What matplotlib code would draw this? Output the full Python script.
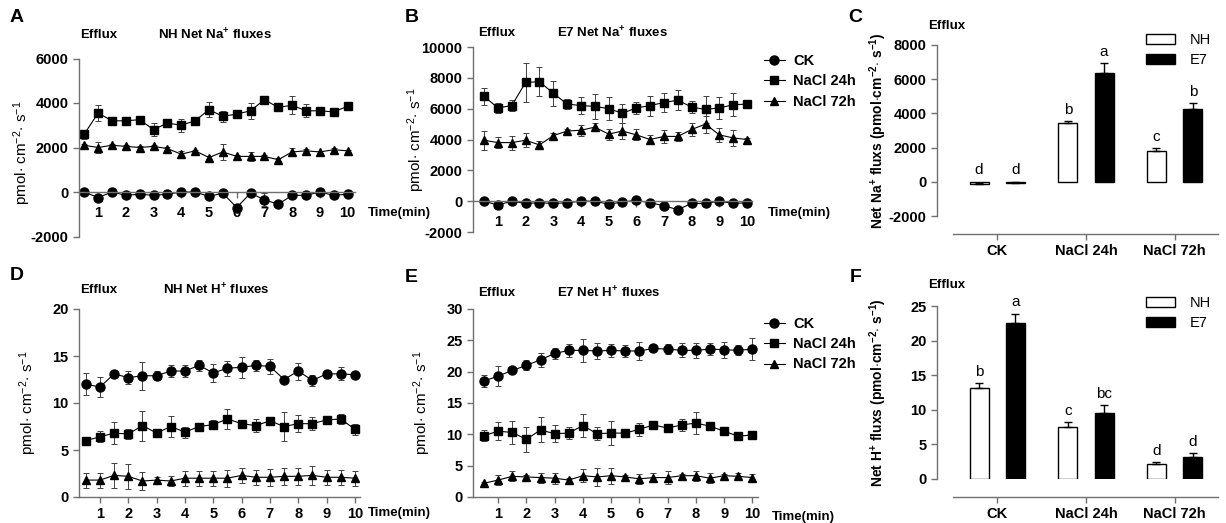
"""Net Na+ and H+ fluxes, NH vs E7 (panels A-F)."""
import matplotlib
matplotlib.use("Agg")
import matplotlib.pyplot as plt
from matplotlib.patches import Patch
from matplotlib.lines import Line2D

plt.rcParams["font.family"] = ["Liberation Sans", "DejaVu Sans"]
plt.rcParams["mathtext.fontset"] = "custom"
plt.rcParams["mathtext.rm"] = "Liberation Sans"
plt.rcParams["mathtext.bf"] = "Liberation Sans:bold"
plt.rcParams["mathtext.it"] = "Liberation Sans:italic"
plt.rcParams["axes.unicode_minus"] = False

# ---- data ----
time = [0.5, 1, 1.5, 2, 2.5, 3, 3.5, 4, 4.5, 5,
        5.5, 6, 6.5, 7, 7.5, 8, 8.5, 9, 9.5, 10]
series_names = ["CK", "NaCl 24h", "NaCl 72h"]

# A: NH Na+
a_ck = [0, -250, 0, -150, -100, -150, -100, 0, 0, -200,
        -50, -700, -50, -350, -550, -150, -150, 0, -150, -100]
a_ck_err = [50, 80, 50, 50, 50, 50, 50, 80, 50, 80,
            50, 150, 50, 300, 80, 50, 50, 50, 50, 50]
a_24 = [2600, 3550, 3200, 3200, 3250, 2800, 3100, 3000, 3200, 3700,
        3400, 3500, 3650, 4150, 3800, 3900, 3650, 3650, 3600, 3850]
a_24_err = [200, 350, 80, 80, 80, 300, 80, 300, 80, 350,
            250, 80, 350, 80, 80, 400, 300, 80, 80, 80]
a_72 = [2100, 2000, 2100, 2050, 2000, 2050, 1950, 1700, 1850, 1550,
        1800, 1600, 1600, 1600, 1450, 1800, 1850, 1800, 1900, 1850]
a_72_err = [60, 250, 60, 60, 60, 60, 60, 150, 60, 60,
            350, 60, 200, 60, 60, 200, 100, 60, 60, 60]

# B: E7 Na+
b_ck = [0, -250, 0, -150, -100, -150, -100, 0, 0, -200,
        -50, 50, -100, -300, -550, -150, -150, 0, -150, -100]
b_ck_err = [50, 80, 50, 50, 50, 50, 50, 80, 50, 80,
            50, 80, 50, 100, 80, 50, 50, 50, 50, 50]
b_24 = [6800, 6050, 6200, 7700, 7750, 7000, 6300, 6200, 6150, 6000,
        5700, 6050, 6200, 6400, 6550, 6100, 5950, 6050, 6250, 6300]
b_24_err = [550, 350, 350, 1250, 950, 800, 350, 550, 800, 750,
            600, 400, 650, 600, 650, 400, 850, 700, 750, 150]
b_72 = [3950, 3800, 3800, 3950, 3650, 4250, 4550, 4600, 4800, 4350,
        4550, 4300, 4000, 4200, 4200, 4650, 5000, 4300, 4100, 4000]
b_72_err = [600, 350, 450, 450, 250, 150, 150, 350, 250, 350,
            500, 350, 300, 400, 300, 400, 550, 450, 500, 100]

# D: NH H+
d_ck = [12.0, 11.7, 13.1, 12.7, 12.9, 12.9, 13.4, 13.4, 14.0, 13.2,
        13.7, 13.8, 14.0, 13.9, 12.5, 13.4, 12.4, 13.1, 13.1, 13.0]
d_ck_err = [1.2, 1.1, 0.3, 0.7, 1.5, 0.5, 0.6, 0.6, 0.6, 1.0,
            0.8, 1.1, 0.6, 0.8, 0.3, 0.9, 0.6, 0.4, 0.7, 0.3]
d_24 = [6.0, 6.4, 6.8, 6.7, 7.6, 6.8, 7.5, 6.9, 7.5, 7.7,
        8.3, 7.8, 7.6, 8.1, 7.5, 7.8, 7.8, 8.2, 8.3, 7.2]
d_24_err = [0.2, 0.6, 1.2, 0.5, 1.6, 0.2, 1.1, 0.6, 0.4, 0.5,
            1.1, 0.2, 0.7, 0.2, 1.5, 0.9, 0.7, 0.3, 0.5, 0.6]
d_72 = [1.8, 1.8, 2.3, 2.2, 1.7, 1.8, 1.7, 2.0, 2.0, 2.0,
        2.0, 2.3, 2.1, 2.1, 2.2, 2.2, 2.3, 2.1, 2.1, 2.0]
d_72_err = [0.8, 0.8, 1.3, 1.3, 1.0, 0.3, 0.5, 0.8, 0.8, 0.8,
            0.9, 0.8, 0.8, 0.9, 0.9, 0.9, 1.0, 0.8, 0.8, 0.8]

# E: E7 H+
e_ck = [18.5, 19.3, 20.2, 21.0, 21.9, 22.9, 23.4, 23.4, 23.3, 23.4,
        23.3, 23.3, 23.7, 23.6, 23.4, 23.4, 23.6, 23.5, 23.4, 23.6]
e_ck_err = [1.0, 1.6, 0.3, 0.8, 1.1, 0.8, 1.0, 1.8, 1.2, 1.0,
            1.0, 1.5, 0.4, 0.8, 1.1, 1.2, 0.9, 1.3, 0.8, 1.7]
e_24 = [9.8, 10.5, 10.3, 9.2, 10.7, 10.1, 10.2, 11.4, 10.1, 10.2,
        10.2, 10.8, 11.5, 11.0, 11.5, 11.8, 11.3, 10.5, 9.7, 9.9]
e_24_err = [0.9, 1.4, 1.8, 2.0, 2.0, 1.4, 1.0, 1.8, 1.0, 1.9,
            0.3, 1.0, 0.5, 0.6, 1.0, 1.7, 0.3, 0.3, 0.6, 0.3]
e_72 = [2.2, 2.7, 3.3, 3.2, 3.1, 3.0, 2.7, 3.4, 3.2, 3.4,
        3.2, 2.9, 3.1, 3.1, 3.4, 3.4, 3.0, 3.4, 3.3, 3.1]
e_72_err = [0.2, 0.8, 0.8, 0.3, 0.8, 0.9, 0.3, 1.0, 1.5, 1.3,
            0.3, 0.8, 0.7, 1.0, 0.3, 0.8, 0.8, 0.3, 0.6, 0.6]

# C / F: means per treatment
groups = ["CK", "NaCl 24h", "NaCl 72h"]
c_nh = [-100, 3420, 1810]
c_nh_err = [40, 150, 140]
c_e7 = [-50, 6340, 4270]
c_e7_err = [30, 620, 350]
c_nh_let = ["d", "b", "c"]
c_e7_let = ["d", "a", "b"]

f_nh = [13.2, 7.5, 2.1]
f_nh_err = [0.7, 0.7, 0.3]
f_e7 = [22.6, 9.6, 3.2]
f_e7_err = [1.3, 1.1, 0.6]
f_nh_let = ["b", "c", "d"]
f_e7_let = ["a", "bc", "d"]

# ---- layout helpers (pixel based) ----
W, H = 1226, 523
fig = plt.figure(figsize=(W / 100, H / 100), dpi=100)
AX_COLOR = "#707070"
TICK_FS = 10.5


def add_ax(left, right, top, bottom):
    return fig.add_axes([left / W, 1 - bottom / H, (right - left) / W, (bottom - top) / H])


def ftext(x, y, s, **kw):
    kw.setdefault("va", "center")
    kw.setdefault("ha", "left")
    fig.text(x / W, 1 - y / H, s, **kw)


def style_axes(ax):
    for side in ["top", "right"]:
        ax.spines[side].set_visible(False)
    for side in ["left", "bottom"]:
        ax.spines[side].set_color(AX_COLOR)
        ax.spines[side].set_linewidth(1.0)
    ax.tick_params(colors=AX_COLOR, labelcolor="black", length=4, width=1.0,
                   labelsize=TICK_FS)
    for lab in ax.get_xticklabels() + ax.get_yticklabels():
        lab.set_fontweight("bold")


def time_panel(ax, data, xlim, ylim, yticks, zero_axis):
    markers = ["o", "s", "^"]
    sizes = [6.5, 6, 5.5]
    for (vals, errs), m, ms, name in zip(data, markers, sizes, series_names):
        ax.errorbar(time, vals, yerr=errs, color="black", marker=m, ms=ms,
                    lw=0.8, ecolor="#404040", elinewidth=0.7, capsize=2,
                    capthick=0.7, label=name)
    ax.set_xlim(*xlim)
    ax.set_ylim(*ylim)
    ax.set_xticks(range(1, 11))
    ax.set_yticks(yticks)
    if zero_axis:
        ax.spines["bottom"].set_position(("data", 0))
        ax.tick_params(axis="x", pad=6)
    style_axes(ax)


def bar_panel(ax, nh, nh_err, e7, e7_err, nh_let, e7_let, ylim, yticks):
    pos = range(len(groups))
    xnh = [p - 0.205 for p in pos]
    xe7 = [p + 0.205 for p in pos]
    ax.bar(xnh, nh, width=0.215, color="white", edgecolor="black", lw=1.0,
           yerr=[[0] * 3, nh_err], error_kw=dict(ecolor="black", elinewidth=1, capsize=3, capthick=1))
    ax.bar(xe7, e7, width=0.215, color="black", edgecolor="black", lw=1.0,
           yerr=[[0] * 3, e7_err], error_kw=dict(ecolor="black", elinewidth=1, capsize=3, capthick=1))
    for x, v, e, t in zip(xnh + xe7, nh + e7, nh_err + e7_err, nh_let + e7_let):
        ax.annotate(t, (x, max(v, 0) + e), xytext=(0, 3), textcoords="offset points",
                    ha="center", va="bottom", fontsize=11)
    ax.set_xlim(-0.68, 2.49)
    ax.set_ylim(*ylim)
    ax.set_yticks(yticks)
    ax.set_xticks(list(pos))
    ax.set_xticklabels(groups)
    ax.spines["bottom"].set_position(("outward", 13))
    ax.spines["bottom"].set_bounds(-0.5, 2.49)
    style_axes(ax)


ylab_line = r"pmol$\cdot$ cm$^{-2}$$\cdot$ s$^{-1}$"

# A
axA = add_ax(79, 355, 58.5, 236.5)
time_panel(axA, [(a_ck, a_ck_err), (a_24, a_24_err), (a_72, a_72_err)],
           (0.31, 10.27), (-2000, 6000), [-2000, 0, 2000, 4000, 6000], True)
axA.set_ylabel(ylab_line, fontsize=11)
axA.yaxis.set_label_coords(-46 / 276, 0.47)

# B
axB = add_ax(473, 752, 47, 232)
time_panel(axB, [(b_ck, b_ck_err), (b_24, b_24_err), (b_72, b_72_err)],
           (0.1, 10.18), (-2000, 10000), list(range(-2000, 10001, 2000)), True)
axB.set_ylabel(ylab_line, fontsize=11)
axB.yaxis.set_label_coords(-46 / 279, 0.5)

# D
axD = add_ax(79, 360, 309, 497)
time_panel(axD, [(d_ck, d_ck_err), (d_24, d_24_err), (d_72, d_72_err)],
           (0.26, 10.18), (0, 20), [0, 5, 10, 15, 20], False)
axD.set_ylabel(ylab_line, fontsize=11)
axD.yaxis.set_label_coords(-40 / 281, 0.5)

# E
axE = add_ax(473, 758, 309, 497)
time_panel(axE, [(e_ck, e_ck_err), (e_24, e_24_err), (e_72, e_72_err)],
           (0.11, 10.2), (0, 30), [0, 5, 10, 15, 20, 25, 30], False)
axE.set_ylabel(ylab_line, fontsize=11)
axE.yaxis.set_label_coords(-40 / 285, 0.5)

# legends of the time panels
leg_handles = [Line2D([], [], color="black", marker=m, ms=s, lw=0.8)
               for m, s in zip(["o", "s", "^"], [6.5, 6, 5.5])]
for ax, ytop in [(axB, 54), (axE, 317)]:
    leg = fig.legend(leg_handles, series_names, loc="upper left",
                     bbox_to_anchor=(764 / W, 1 - ytop / H), frameon=False,
                     handlelength=1.5, labelspacing=0.45, handletextpad=0.6,
                     borderaxespad=0, borderpad=0)
    for t in leg.get_texts():
        t.set_fontweight("bold")
        t.set_fontsize(10.5)

# C
axC = add_ax(937, 1218, 45, 216)
bar_panel(axC, c_nh, c_nh_err, c_e7, c_e7_err, c_nh_let, c_e7_let,
          (-2000, 8000), list(range(-2000, 8001, 2000)))
axC.set_ylabel(r"Net Na$^{\mathbf{+}}$ fluxs (pmol$\cdot$cm$^{\mathbf{-2}}$$\cdot$ s$^{\mathbf{-1}}$)",
               fontsize=10, fontweight="bold")
axC.yaxis.set_label_coords(-48 / 281, 0.5)

# F
axF = add_ax(937, 1218, 306, 479)
bar_panel(axF, f_nh, f_nh_err, f_e7, f_e7_err, f_nh_let, f_e7_let,
          (0, 25), [0, 5, 10, 15, 20, 25])
axF.set_ylabel(r"Net H$^{\mathbf{+}}$ fluxs (pmol$\cdot$cm$^{\mathbf{-2}}$$\cdot$ s$^{\mathbf{-1}}$)",
               fontsize=10, fontweight="bold")
axF.yaxis.set_label_coords(-48 / 281, 0.5)

bar_handles = [Patch(facecolor="white", edgecolor="black"),
               Patch(facecolor="black", edgecolor="black")]
for ytop in [33, 296]:
    fig.legend(bar_handles, ["NH", "E7"], loc="upper left",
               bbox_to_anchor=(1146 / W, 1 - ytop / H), frameon=False,
               handlelength=2.0, handleheight=0.7, labelspacing=0.4,
               handletextpad=1.0, borderaxespad=0, borderpad=0, fontsize=10.5)

# panel letters, titles, "Time(min)"
for x, y, s in [(10, 18, "A"), (405, 18, "B"), (848, 18, "C"),
                (10, 275, "D"), (405, 277, "E"), (850, 278, "F")]:
    ftext(x, y, s, fontsize=14, fontweight="bold")

for x, y in [(80, 35), (478, 33), (928, 26), (80, 290), (478, 293), (928, 285)]:
    ftext(x, y, "Efflux", fontsize=9.5, fontweight="bold")

ftext(158, 35, r"NH Net Na$^{\mathbf{+}}$ fluxes", fontsize=9.5, fontweight="bold")
ftext(557, 33, r"E7 Net Na$^{\mathbf{+}}$ fluxes", fontsize=9.5, fontweight="bold")
ftext(163, 290, r"NH Net H$^{\mathbf{+}}$ fluxes", fontsize=9.5, fontweight="bold")
ftext(557, 293, r"E7 Net H$^{\mathbf{+}}$ fluxes", fontsize=9.5, fontweight="bold")

for x, y in [(368, 213), (768, 213), (368, 513), (772, 517)]:
    ftext(x, y, "Time(min)", fontsize=9.5, fontweight="bold")

fig.savefig("out.png", dpi=100)
